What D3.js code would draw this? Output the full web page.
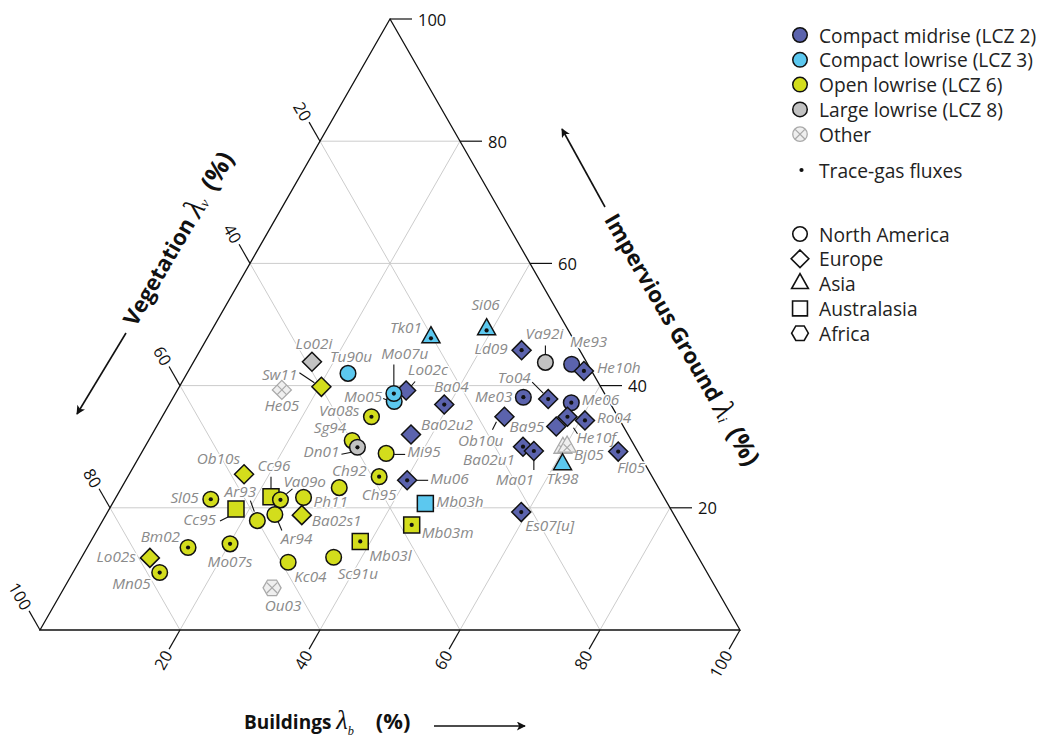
<!DOCTYPE html>
<html><head><meta charset="utf-8">
<script src="https://cdn.jsdelivr.net/npm/d3@7"></script>
<style>body{margin:0;background:#fff}svg{display:block}</style>
</head><body>
<svg id="chart" width="1042" height="740"></svg>
<script>
// ---------------- DATA ----------------
const siteNames = ["Ob10s","Cc96","Va09o","Ph11","Ch92","Ch95","Sl05","Ar93","Cc95","Ar94","Ba02s1","Bm02","Mo07s","Lo02s","Mn05","Kc04","Sc91u","Ou03","Mb03l","Mb03m","Mb03h","Tk01","Lo02i","Tu90u","Sw11","He05","Lo02c","Mo05","Mo07u","Ba04","Va08s","Ba02u2","Sg94","Dn01","Mi95","Mu06","Si06","Ld09","Va92i","Me93","He10h","Me03","To04","Me06","Ob10u","Ba95","He10f","Ro04","Ba02u1","Ma01","Bj05","Bj05","Tk98","Fl05","Es07[u]"];
const siteLCZ = ["6","6","6","6","6","6","6","6","6","6","6","6","6","6","6","6","6","other","6","6","3","3","8","3","6","other","2","3","3","2","6","2","6","8","6","2","3","2","8","2","2","2","2","2","2","2","2","2","2","2","other","other","3","2","2"];
const siteRegion = ["EU","AU","NA","NA","NA","NA","NA","NA","AU","NA","EU","NA","NA","EU","NA","NA","NA","AF","AU","AU","AU","AS","EU","NA","EU","EU","EU","NA","NA","EU","NA","EU","NA","NA","NA","EU","AS","EU","NA","NA","EU","NA","EU","NA","EU","EU","EU","EU","EU","EU","AS","AS","AS","EU","EU"];
const buildingsPct = [16.4,22.1,23.7,26.8,31.1,35.9,13.7,22.1,18.1,24.1,28.0,14.4,20.1,9.8,12.4,29.9,36.0,29.7,38.5,44.5,44.7,31.9,16.9,23.0,20.3,14.9,32.7,31.9,31.2,39.3,29.9,37.0,29.1,30.4,35.0,40.2,39.2,45.9,50.3,54.2,56.5,50.0,53.7,57.3,48.9,57.1,57.9,60.7,54.0,55.9,59.8,60.3,61.1,68.0,59.1];
const imperviousPct = [25.5,21.8,21.3,21.7,23.3,25.1,21.4,17.9,19.8,18.9,18.8,13.5,14.1,11.8,9.4,11.1,11.9,6.9,14.5,17.2,20.7,47.9,43.9,42.0,39.8,39.3,39.2,37.4,38.7,36.9,34.9,32.0,31.0,29.9,28.9,24.5,49.2,45.8,43.8,43.5,42.4,38.1,37.8,37.2,34.9,33.3,34.9,34.3,30.0,29.3,29.8,30.0,27.1,29.2,19.3];
const traceGas = [0,0,1,0,0,1,1,0,0,0,0,1,1,0,1,0,0,0,1,1,0,1,0,0,0,0,0,0,1,1,1,0,0,1,0,1,1,1,0,0,1,1,1,1,0,0,1,1,1,1,0,0,0,1,1];

const gridTicks = [20,40,60,80];
const axisTicks = [20,40,60,80,100];
const lczKeys = ["2","3","6","8","other"];
const lczLabels = ["Compact midrise (LCZ 2)","Compact lowrise (LCZ 3)","Open lowrise (LCZ 6)","Large lowrise (LCZ 8)","Other"];
const regionKeys = ["NA","EU","AS","AU","AF"];
const regionLabels = ["North America","Europe","Asia","Australasia","Africa"];

// ---------------- STYLE / LAYOUT ----------------
const lczColor = {"2":"#5b63ad","3":"#5cc8ef","6":"#d3dd1c","8":"#c2c2c2","other":"#efefef"};
const FONT = "'Open Sans', 'DejaVu Sans', sans-serif";
const labelColor = "#8a8a8a";
// label layout: [anchor, dx, dy, leader(optional)]
const labelLayout = {
 "Ob10s":["end",-4,-10],"Cc96":["middle",3,-26,[0,-8,0,-20]],"Va09o":["start",3,-13,[6,-6,12,-11]],
 "Ph11":["start",10,10],"Ch92":["middle",10,-12],"Ch95":["middle",0,23],"Sl05":["end",-12,4],
 "Ar93":["middle",-17,-24,[-7,-20,-3,-9]],"Cc95":["end",-20,16,[-16,12,-8,8]],"Ar94":["start",6,29,[2,4,7,16]],
 "Ba02s1":["start",10,11],"Bm02":["end",-8,-6],"Mo07s":["middle",0,23],"Lo02s":["end",-14,4],
 "Mn05":["end",-9,16],"Kc04":["start",6,20],"Sc91u":["start",4,22],"Ou03":["middle",11,23],
 "Mb03l":["start",9,20],"Mb03m":["start",10,13],"Mb03h":["start",11,3],"Tk01":["end",-9,-4],
 "Lo02i":["middle",2,-13],"Tu90u":["middle",3,-11],"Sw11":["end",-24,-7,[-22,-14,-7,-4]],
 "He05":["middle",0,21],"Lo02c":["start",2,-15,[3,-2,9,-9]],"Mo05":["end",-12,1,[-11,-3,-6,-1]],
 "Mo07u":["middle",11,-35,[0,-29,0,-8]],"Ba04":["middle",7,-13],"Va08s":["end",-12,-1],
 "Ba02u2":["start",10,-4],"Sg94":["end",-6,-8],"Dn01":["end",-18,10,[-16,7,-6,5]],
 "Mi95":["start",21,4,[8,1,19,1]],"Mu06":["start",23,4,[6,0,21,0]],"Si06":["middle",-1,-19],
 "Ld09":["end",-14,4],"Va92i":["middle",-1,-23.5,[0,-17,0,-8]],"Me93":["middle",17,-17],
 "He10h":["start",13,2],"Me03":["end",-11,5],"To04":["middle",-34,-16.5,[-16,-17,-5,-6]],
 "Me06":["start",10.5,2.5],"Ob10u":["end",-1,29,[-8,5,-12,13]],"Ba95":["end",-12,5],
 "He10f":["start",9,26,[6,11,10,17]],"Ro04":["start",12,3],"Ba02u1":["end",-8,18],
 "Ma01":["middle",-19,34,[0,9,0,19]],"Bj05":["start",11,12],"Tk98":["middle",0,20],
 "Fl05":["middle",13,21],"Es07[u]":["start",4,19]
};

// ---------------- SCALES ----------------
const svg = d3.select("#chart");
const xS = d3.scaleLinear().domain([0,100]).range([40,740]);
const yS = d3.scaleLinear().domain([0,100]).range([630,19]);
const proj = (b,i) => [xS(b + i/2), yS(i)];

// shapes
function shapePath(region, k){
  k = k || 1;
  if(region==="NA"){ const r=7.8*k; return d3.symbol().type(d3.symbolCircle).size(Math.PI*r*r)(); }
  if(region==="EU"){ const a=9.5*k; return `M0,${-a}L${a},0L0,${a}L${-a},0Z`; }
  if(region==="AS"){ const w=18*k,h=16*k; return `M0,${-2*h/3}L${w/2},${h/3}L${-w/2},${h/3}Z`; }
  if(region==="AU"){ const s=8*k; return `M${-s},${-s}H${s}V${s}H${-s}Z`; }
  const r=9*k; const pts=d3.range(6).map(j=>[r*Math.cos(j*Math.PI/3), r*Math.sin(j*Math.PI/3)]);
  return "M"+pts.map(p=>p.join(",")).join("L")+"Z";
}
function crossPath(region,k){
  k=k||1;
  const c = (region==="AS"?3.5:region==="EU"?4.7:5.2)*k;
  const oy = region==="AS"? 1*k : 0;
  return `M${-c},${-c+oy}L${c},${c+oy}M${c},${-c+oy}L${-c},${c+oy}`;
}

const defs = svg.append("defs");
defs.append("marker").attr("id","arrow").attr("viewBox","0 0 10 10").attr("refX",9).attr("refY",5)
  .attr("markerWidth",11).attr("markerHeight",9).attr("markerUnits","userSpaceOnUse").attr("orient","auto")
  .append("path").attr("d","M0,0L10,5L0,10L2.5,5Z").attr("fill","#111");

// ---------------- GRID ----------------
const grid = svg.append("g").attr("stroke","#cccccc").attr("stroke-width",1).attr("fill","none");
gridTicks.forEach(k=>{
  [[proj(k,0),proj(k,100-k)],[proj(0,k),proj(100-k,k)],[proj(0,100-k),proj(100-k,0)]].forEach(([a,b])=>{
    grid.append("line").attr("x1",a[0]).attr("y1",a[1]).attr("x2",b[0]).attr("y2",b[1]);
  });
});

// triangle edges
const A = proj(0,0), B = proj(100,0), C = proj(0,100);
svg.append("path").attr("d",`M${A}L${B}L${C}Z`).attr("fill","none").attr("stroke","#111").attr("stroke-width",1.3);

// ---------------- TICKS ----------------
const tickLen = 22;
const leftDir = (()=>{const dx=C[0]-A[0], dy=C[1]-A[1], L=Math.hypot(dx,dy); return [dx/L,dy/L];})();
const ticks = svg.append("g").attr("font-family",FONT).attr("font-size",16.5).attr("fill","#111");
axisTicks.forEach(k=>{
  // buildings (bottom)
  let p = proj(k,0), d=[-leftDir[0],-leftDir[1]];
  let e=[p[0]+d[0]*tickLen,p[1]+d[1]*tickLen];
  ticks.append("line").attr("x1",p[0]).attr("y1",p[1]).attr("x2",e[0]).attr("y2",e[1]).attr("stroke","#111").attr("stroke-width",1.2);
  let t=[e[0]+d[0]*3,e[1]+d[1]*3];
  ticks.append("text").attr("transform",`translate(${t[0]},${t[1]}) rotate(-60)`).attr("text-anchor","end").attr("dominant-baseline","central").text(k);
  // vegetation (left)
  p = proj(0,100-k);
  d=[-Math.abs(leftDir[0]),-Math.abs(leftDir[1])];
  e=[p[0]+d[0]*tickLen,p[1]+d[1]*tickLen];
  ticks.append("line").attr("x1",p[0]).attr("y1",p[1]).attr("x2",e[0]).attr("y2",e[1]).attr("stroke","#111").attr("stroke-width",1.2);
  t=[e[0]+d[0]*3,e[1]+d[1]*3];
  ticks.append("text").attr("transform",`translate(${t[0]},${t[1]}) rotate(60)`).attr("text-anchor","end").attr("dominant-baseline","central").text(k);
  // impervious (right)
  p = proj(100-k,k);
  ticks.append("line").attr("x1",p[0]).attr("y1",p[1]).attr("x2",p[0]+tickLen).attr("y2",p[1]).attr("stroke","#111").attr("stroke-width",1.2);
  ticks.append("text").attr("x",p[0]+tickLen+6).attr("y",p[1]).attr("dominant-baseline","central").text(k);
});

// ---------------- AXIS TITLES ----------------
function axisTitle(g, main, sub, fs, gap){
  const t = g.append("text").attr("font-family",FONT).attr("font-weight","bold").attr("font-size",fs).attr("fill","#111");
  t.append("tspan").text(main+" ");
  t.append("tspan").attr("font-family","'Liberation Serif','DejaVu Serif',serif").attr("font-style","italic").attr("font-weight","normal").attr("font-size",fs*1.4).text("λ");
  t.append("tspan").attr("font-family","'Liberation Serif','DejaVu Serif',serif").attr("font-style","italic").attr("font-weight","normal").attr("font-size",fs*0.65).attr("dy",6).text(sub);
  t.append("tspan").attr("dy",-6).attr("dx",fs*gap).attr("font-size",fs*1.15).text("(%)");
  return t;
}
axisTitle(svg.append("g").attr("transform","translate(244,729)"),"Buildings","b",19,1.15);
svg.append("line").attr("x1",434).attr("y1",726).attr("x2",525).attr("y2",726).attr("stroke","#111").attr("stroke-width",1.6).attr("marker-end","url(#arrow)");

axisTitle(svg.append("g").attr("transform","translate(177,238) rotate(-60)"),"Vegetation","v",22,0.5).attr("text-anchor","middle").attr("dominant-baseline","central");
svg.append("line").attr("x1",126).attr("y1",333).attr("x2",77).attr("y2",414).attr("stroke","#111").attr("stroke-width",1.6).attr("marker-end","url(#arrow)");

axisTitle(svg.append("g").attr("transform","translate(683,339) rotate(60)"),"Impervious Ground","i",22,0.5).attr("text-anchor","middle").attr("dominant-baseline","central");
svg.append("line").attr("x1",605).attr("y1",207).attr("x2",562).attr("y2",129).attr("stroke","#111").attr("stroke-width",1.6).attr("marker-end","url(#arrow)");

// ---------------- SITES ----------------
const sites = siteNames.map((n,j)=>({name:n, lcz:siteLCZ[j], region:siteRegion[j], b:buildingsPct[j], i:imperviousPct[j], trace:traceGas[j]}));
const seen = new Set();
const labG = svg.append("g").attr("font-family",FONT).attr("font-style","italic").attr("font-size",15.3).attr("fill",labelColor)
  .attr("stroke","#fff").attr("stroke-width",3).attr("paint-order","stroke").attr("stroke-linejoin","round");
const leadG = svg.append("g").attr("stroke","#111").attr("stroke-width",1.1);
sites.forEach(s=>{
  if(seen.has(s.name)) return; seen.add(s.name);
  const L = labelLayout[s.name]; if(!L) return;
  const [x,y] = proj(s.b,s.i);
  labG.append("text").attr("x",x+L[1]).attr("y",y+L[2]).attr("text-anchor",L[0]).text(s.name);
  if(L[3]) leadG.append("line").attr("x1",x+L[3][0]).attr("y1",y+L[3][1]).attr("x2",x+L[3][2]).attr("y2",y+L[3][3]);
});

const ptG = svg.append("g");
sites.forEach(s=>{
  const [x,y] = proj(s.b,s.i);
  const g = ptG.append("g").attr("transform",`translate(${x},${y})`);
  const other = s.lcz==="other";
  g.append("path").attr("d",shapePath(s.region)).attr("fill",lczColor[s.lcz])
    .attr("stroke",other?"#a9a9a9":"#111").attr("stroke-width",other?1.3:1.5);
  if(other) g.append("path").attr("d",crossPath(s.region)).attr("stroke","#a9a9a9").attr("stroke-width",1.2).attr("fill","none");
  if(s.trace){
    const oy = s.region==="AS"?1:0;
    g.append("circle").attr("cx",0).attr("cy",oy).attr("r",2.1).attr("fill","#111");
  }
});

// ---------------- LEGEND ----------------
const leg = svg.append("g").attr("font-family",FONT).attr("font-size",19.2).attr("fill","#222");
lczKeys.forEach((k,j)=>{
  const y = 35 + j*24.8;
  const other = k==="other";
  leg.append("path").attr("transform",`translate(800,${y})`).attr("d",shapePath("NA",0.93)).attr("fill",lczColor[k])
    .attr("stroke",other?"#a9a9a9":"#111").attr("stroke-width",other?1.3:1.5);
  if(other) leg.append("path").attr("transform",`translate(800,${y})`).attr("d",crossPath("NA",0.93)).attr("stroke","#a9a9a9").attr("stroke-width",1.2);
  leg.append("text").attr("x",819).attr("y",y).attr("dominant-baseline","central").text(lczLabels[j]);
});
leg.append("circle").attr("cx",801.5).attr("cy",170).attr("r",2.1).attr("fill","#111");
leg.append("text").attr("x",819).attr("y",170).attr("dominant-baseline","central").text("Trace-gas fluxes");
regionKeys.forEach((k,j)=>{
  const y = 234 + j*24.8;
  leg.append("path").attr("transform",`translate(800,${y})`).attr("d",shapePath(k,0.93)).attr("fill","#fff")
    .attr("stroke","#111").attr("stroke-width",1.6);
  leg.append("text").attr("x",819).attr("y",y).attr("dominant-baseline","central").text(regionLabels[j]);
});
</script>
</body></html>
